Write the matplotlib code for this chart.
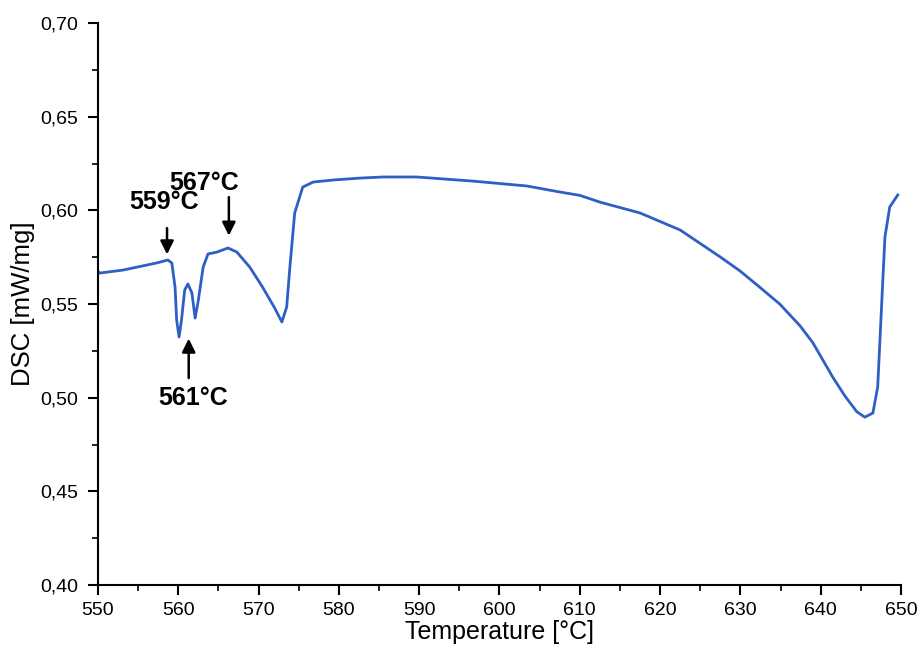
import matplotlib
matplotlib.use("Agg")
import matplotlib.pyplot as plt
from matplotlib.ticker import MultipleLocator, FuncFormatter

plt.rcParams['font.family'] = ['Liberation Sans', 'DejaVu Sans']

# DSC curve
temp = [550.0, 550.2, 553.1, 557.3, 558.7, 559.2, 559.6, 559.8, 560.1, 560.4,
        560.8, 561.2, 561.7, 562.1, 562.5, 563.1, 563.7, 564.8, 566.2, 567.3,
        568.9, 570.5, 572.0, 572.9, 573.5, 573.9, 574.5, 575.5, 576.8, 579.3,
        582.6, 585.5, 589.7, 596.7, 603.4, 607.5, 610.0, 612.5, 617.5, 622.5,
        627.5, 630.0, 632.4, 634.9, 637.4, 639.0, 641.5, 643.0, 644.5, 645.5,
        646.5, 647.1, 647.6, 648.0, 648.6, 649.6]
dsc = [0.5676, 0.5665, 0.5681, 0.5719, 0.5735, 0.5719, 0.5590, 0.5414, 0.5324, 0.5414,
       0.5575, 0.5607, 0.5559, 0.5425, 0.5521, 0.5697, 0.5767, 0.5777, 0.5799, 0.5777,
       0.5697, 0.5590, 0.5479, 0.5404, 0.5484, 0.5697, 0.5986, 0.6124, 0.6151, 0.6162,
       0.6172, 0.6178, 0.6178, 0.6156, 0.6130, 0.6098, 0.6080, 0.6044, 0.5986, 0.5895,
       0.5751, 0.5675, 0.5590, 0.5500, 0.5385, 0.5295, 0.5110, 0.5010, 0.4925, 0.4896,
       0.4918, 0.5057, 0.5505, 0.5857, 0.6018, 0.6082]

# annotations: label, text position, arrow tail, arrow head
labels = ['559°C', '567°C', '561°C']
text_xy = [(558.2, 0.6044), (563.2, 0.6146), (561.8, 0.4998)]
tail_xy = [(558.6, 0.5920), (566.3, 0.6085), (561.3, 0.5090)]
head_xy = [(558.6, 0.5750), (566.3, 0.5850), (561.3, 0.5330)]

fig = plt.figure(figsize=(9.19, 6.46), dpi=100)
ax = fig.add_axes([0.1066, 0.0944, 0.8738, 0.87])

ax.plot(temp, dsc, color='#2d5fc4', lw=2)

for lab, t, a, h in zip(labels, text_xy, tail_xy, head_xy):
    ax.annotate('', xy=h, xytext=a,
                arrowprops=dict(arrowstyle='-|>', color='black', lw=1.8, mutation_scale=20))
    ax.text(t[0], t[1], lab, ha='center', va='center', fontsize=18, fontweight='bold')

ax.set_xlim(550, 650)
ax.set_ylim(0.40, 0.70)
ax.xaxis.set_major_locator(MultipleLocator(10))
ax.xaxis.set_minor_locator(MultipleLocator(5))
ax.yaxis.set_major_locator(MultipleLocator(0.05))
ax.yaxis.set_minor_locator(MultipleLocator(0.025))
ax.yaxis.set_major_formatter(FuncFormatter(lambda v, p: f'{v:.2f}'.replace('.', ',')))

for s in ['top', 'right']:
    ax.spines[s].set_visible(False)
for s in ['left', 'bottom']:
    ax.spines[s].set_linewidth(1.5)
ax.tick_params(which='major', direction='out', length=7, width=1.5, labelsize=14)
ax.tick_params(axis='y', which='major', pad=7)
ax.tick_params(axis='x', which='major', pad=5)
ax.tick_params(which='minor', direction='out', length=4, width=1.2)

ax.set_xlabel('Temperature [°C]', fontsize=18, labelpad=1)
ax.set_ylabel('DSC [mW/mg]', fontsize=18.5, labelpad=4)

fig.savefig('out.png', dpi=100)
